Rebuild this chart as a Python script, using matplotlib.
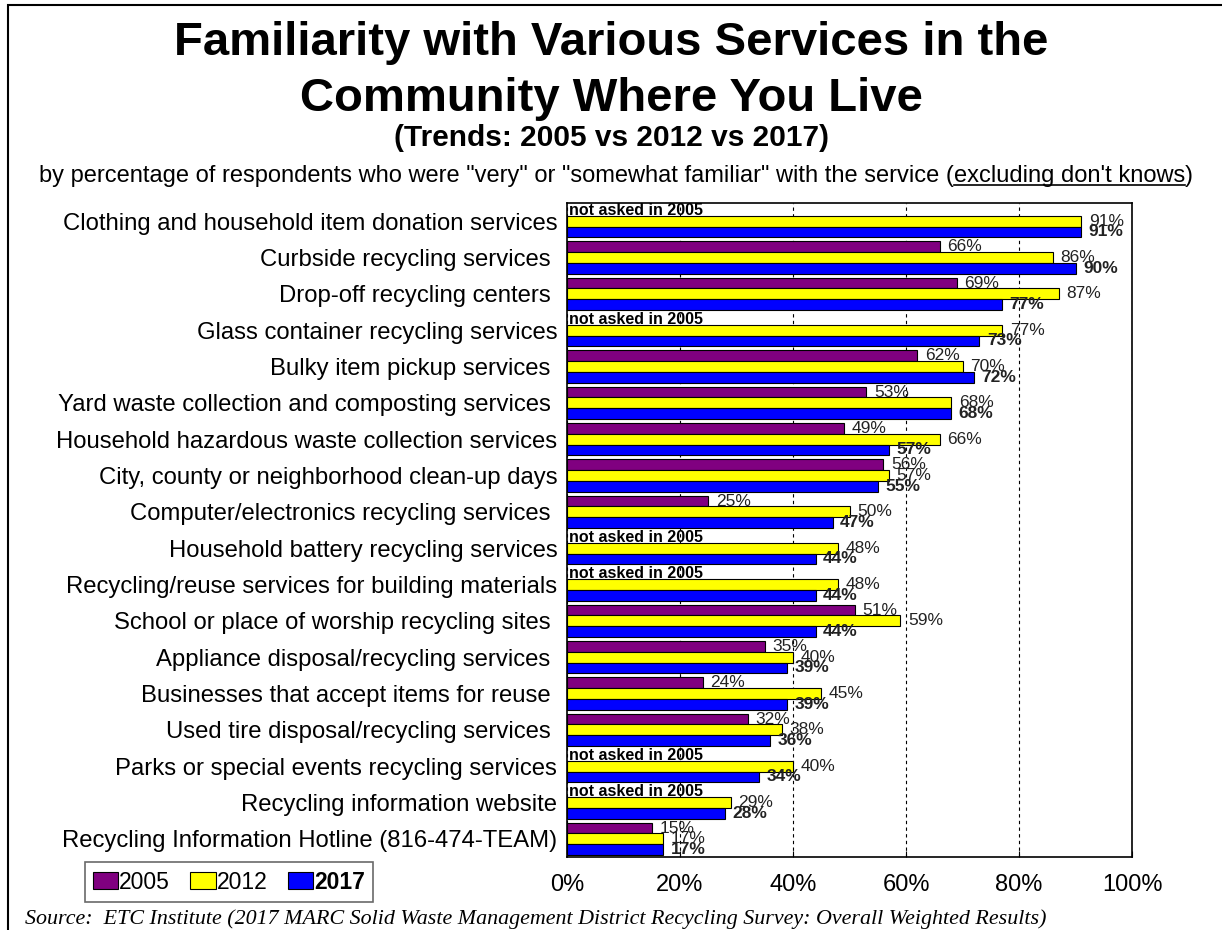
import matplotlib
matplotlib.use("Agg")
import matplotlib.pyplot as plt
from matplotlib.patches import Patch, Rectangle
from matplotlib.lines import Line2D
import numpy as np

plt.rcParams['font.family'] = ['Liberation Sans', 'DejaVu Sans']

# data (top to bottom as in the chart); None = not asked that year
services = [
    "Clothing and household item donation services",
    "Curbside recycling services ",
    "Drop-off recycling centers ",
    "Glass container recycling services",
    "Bulky item pickup services ",
    "Yard waste collection and composting services ",
    "Household hazardous waste collection services",
    "City, county or neighborhood clean-up days",
    "Computer/electronics recycling services ",
    "Household battery recycling services",
    "Recycling/reuse services for building materials",
    "School or place of worship recycling sites ",
    "Appliance disposal/recycling services ",
    "Businesses that accept items for reuse ",
    "Used tire disposal/recycling services ",
    "Parks or special events recycling services",
    "Recycling information website",
    "Recycling Information Hotline (816-474-TEAM)",
]
y2005 = [None, 66, 69, None, 62, 53, 49, 56, 25, None, None, 51, 35, 24, 32, None, None, 15]
y2012 = [91, 86, 87, 77, 70, 68, 66, 57, 50, 48, 48, 59, 40, 45, 38, 40, 29, 17]
y2017 = [91, 90, 77, 73, 72, 68, 57, 55, 47, 44, 44, 44, 39, 39, 36, 34, 28, 17]
years = ["2005", "2012", "2017"]
colors = ["#800080", "#FFFF00", "#0000FF"]
xticks = [0, 20, 40, 60, 80, 100]

W, H = 1222, 930
fig = plt.figure(figsize=(W / 100, H / 100), dpi=100)
ax = fig.add_axes([567 / W, 1 - 857 / H, (1132 - 567) / W, (857 - 203) / H])

pos = np.arange(len(services))
bh = 0.295
series = [y2005, y2012, y2017]
for k, (vals, col) in enumerate(zip(series, colors)):
    off = (k - 1) * bh
    for i, v in enumerate(vals):
        if v is None:
            if k == 0:
                ax.text(0.4, i + off, "not asked in 2005", fontsize=11.5, fontweight='bold',
                        va='center', ha='left', color='black', zorder=4)
            continue
        ax.barh(i + off, v, height=bh, color=col, edgecolor='black', linewidth=0.8, zorder=3)
        ax.annotate(f"{v}%", (v, i + off), xytext=(5.5, 0), textcoords='offset points',
                    va='center', ha='left', fontsize=12.5, color='#222222',
                    fontweight='bold' if k == 2 else 'normal', zorder=5)

ax.set_xlim(0, 100)
ax.set_ylim(len(services) - 0.5, -0.5)
ax.set_yticks(pos)
ax.set_yticklabels(services, fontsize=17.2)
ax.tick_params(axis='y', length=0, pad=7)
ax.set_xticks(xticks)
ax.set_xticklabels([f"{t}%" for t in xticks], fontsize=17)
ax.tick_params(axis='x', direction='in', length=4, pad=12)
ax.xaxis.grid(True, linestyle=(0, (3, 3)), color='black', linewidth=0.8)
ax.set_axisbelow(True)
for s in ax.spines.values():
    s.set_color('black')
    s.set_linewidth(1.2)

# titles
fig.text(0.5, 1 - 55 / H, "Familiarity with Various Services in the", ha='center',
         va='baseline', fontsize=34, fontweight='bold')
fig.text(0.5, 1 - 111 / H, "Community Where You Live", ha='center',
         va='baseline', fontsize=34, fontweight='bold')
fig.text(0.5, 1 - 146 / H, "(Trends: 2005 vs 2012 vs 2017)", ha='center',
         va='baseline', fontsize=21.5, fontweight='bold')

# description line with underlined part
parts = ['by percentage of respondents who were "very" or "somewhat familiar" with the service (',
         "excluding don't knows", ")"]
renderer = fig.canvas.get_renderer()
base_y = 1 - 182 / H
txts = [fig.text(0, base_y, p, ha='left', va='baseline', fontsize=17) for p in parts]
widths = [t.get_window_extent(renderer).width for t in txts]
x0 = 616 - sum(widths) / 2
cur = x0
for t, w in zip(txts, widths):
    t.set_x(cur / W)
    cur += w
ul_y = base_y - 3 / H
fig.add_artist(Line2D([(x0 + widths[0]) / W, (x0 + widths[0] + widths[1]) / W], [ul_y, ul_y],
                      transform=fig.transFigure, color='black', linewidth=1.2))

# legend
handles = [Patch(facecolor=c, edgecolor='black', linewidth=0.8) for c in colors]
leg = fig.legend(handles, years, loc='center', bbox_to_anchor=(229 / W, 1 - 882 / H),
                 ncol=3, fontsize=16.5, handlelength=1.1, handleheight=0.7,
                 handletextpad=0.05, columnspacing=0.9, frameon=True, fancybox=False,
                 borderpad=0.35)
leg.get_frame().set_edgecolor('#444444')
leg.get_frame().set_linewidth(1.2)
leg.get_texts()[2].set_fontweight('bold')

# source
fig.text(25 / W, 1 - 924 / H,
         "Source:  ETC Institute (2017 MARC Solid Waste Management District Recycling Survey: Overall Weighted Results)",
         ha='left', va='baseline', fontsize=15.8, style='italic', family=['Liberation Serif', 'DejaVu Serif'])

# outer frame
fig.add_artist(Rectangle((8 / W, -0.1), 1.2, 1.1 - 5 / H, transform=fig.transFigure,
                         fill=False, edgecolor='black', linewidth=1.5))

fig.savefig("out.png", dpi=100)
